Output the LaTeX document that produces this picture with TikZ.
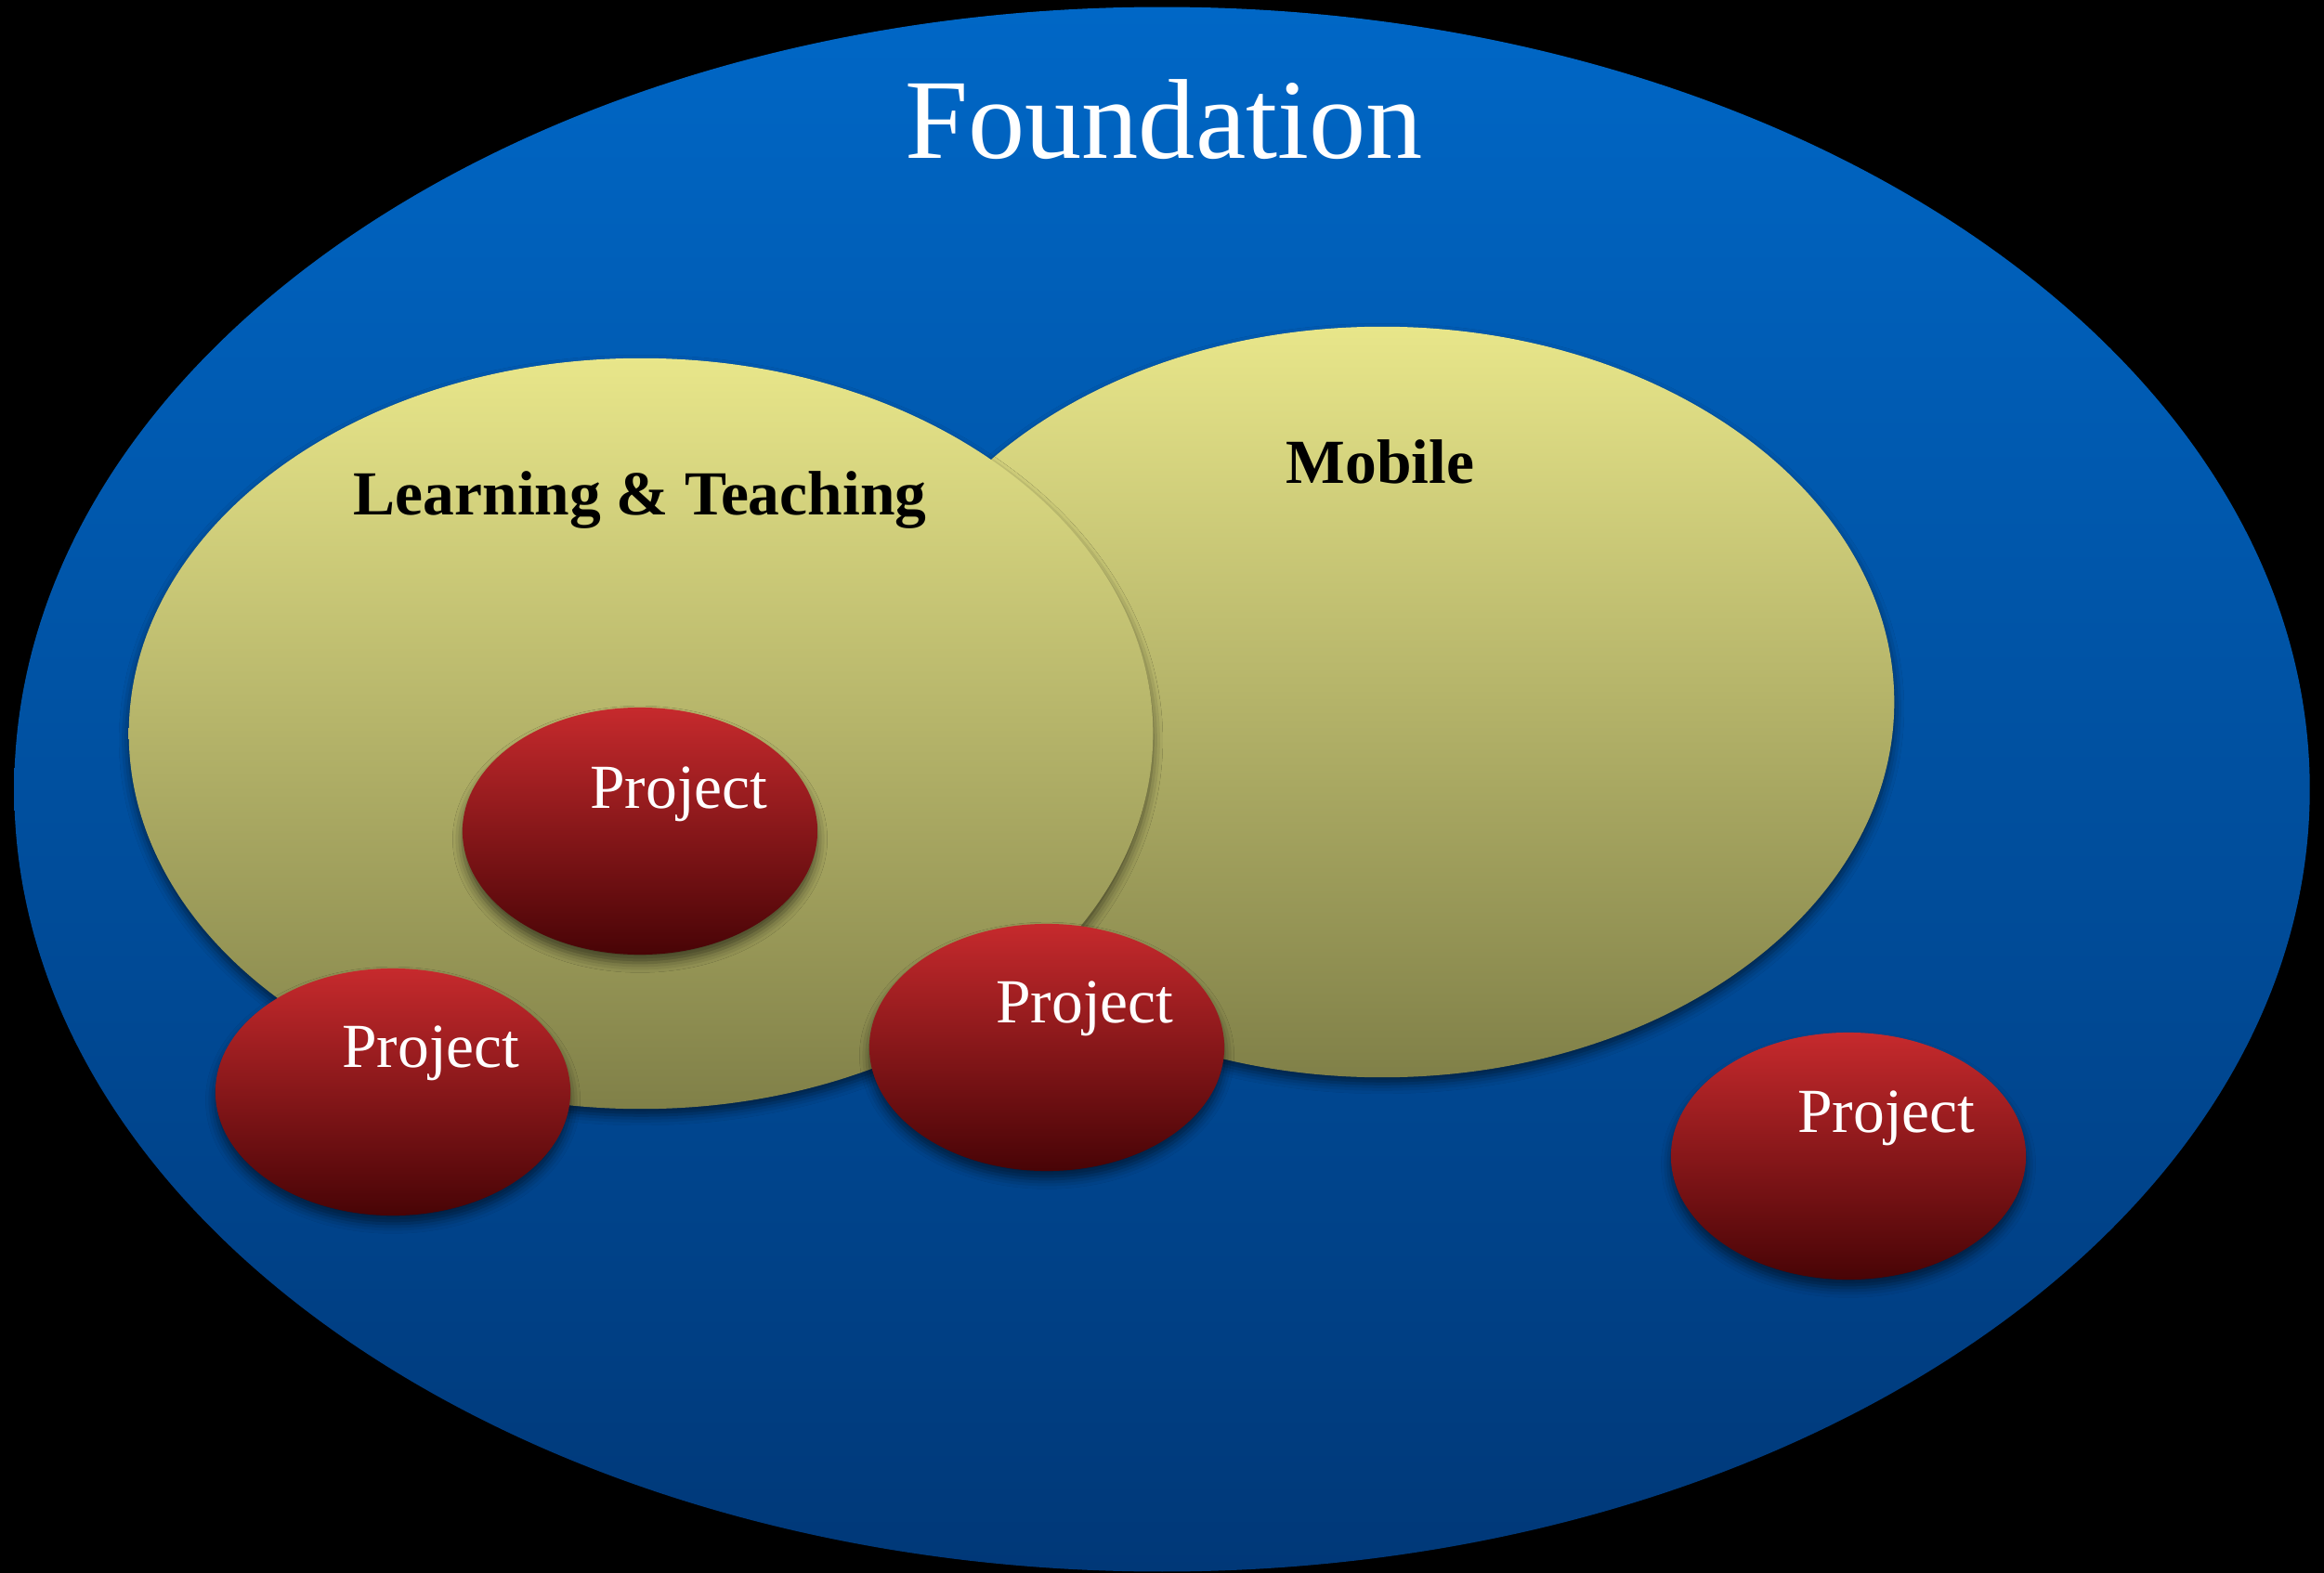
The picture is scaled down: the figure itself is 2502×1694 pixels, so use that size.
\documentclass[tikz,border=0pt]{standalone}
\usepackage{fontspec}
\setmainfont{Liberation Serif}
\usetikzlibrary{shapes.geometric,shadows.blur}
\definecolor{blueTop}{RGB}{0,103,198}
\definecolor{blueBot}{RGB}{0,56,120}
\definecolor{yelTop}{RGB}{232,230,138}
\definecolor{yelBot}{RGB}{128,128,72}
\definecolor{redTop}{RGB}{198,42,45}
\definecolor{redBot}{RGB}{72,4,6}
\tikzset{
  oval/.style={ellipse, inner sep=0pt, draw=none},
  foundationoval/.style={oval, top color=blueTop, bottom color=blueBot,
    minimum width=24.70cm, minimum height=16.84cm},
  areaoval/.style={oval, top color=yelTop, bottom color=yelBot,
    minimum width=11.02cm, minimum height=8.08cm,
    blur shadow={shadow xshift=0pt, shadow yshift=-2pt, shadow blur radius=3pt, shadow opacity=55}},
  projectoval/.style={oval, top color=redTop, bottom color=redBot,
    minimum width=3.82cm, minimum height=2.66cm,
    blur shadow={shadow xshift=0pt, shadow yshift=-2.5pt, shadow blur radius=3pt, shadow opacity=55}},
  titletext/.style={anchor=base, inner sep=0pt, text=white, font=\fontsize{34.8}{40}\selectfont},
  areatext/.style={anchor=base, inner sep=0pt, text=black, font=\bfseries\fontsize{19.2}{23}\selectfont},
  projtext/.style={anchor=base, inner sep=0pt, text=white, font=\fontsize{19.2}{23}\selectfont}
}
\begin{document}
\begin{tikzpicture}[x=0.01cm, y=-0.01cm]
\fill[black] (0,0) rectangle (2502,1694);
\useasboundingbox (0,0) rectangle (2502,1694);
\node[foundationoval] (found) at (1251,850) {};
\node[areaoval] (mobile) at (1488,756) {};
\node[areaoval] (lt) at (690,790) {};
\node[projectoval] (p1) at (689,895) {};
\node[projectoval] (p2) at (423,1176) {};
\node[projectoval] (p3) at (1127,1128) {};
\node[projectoval] (p4) at (1990,1245) {};
\node[titletext] (tfound) at (1253,171) {Foundation};
\node[areatext] (tlt) at (689,554) {Learning \& Teaching};
\node[areatext] (tmob) at (1486,520) {Mobile};
\node[projtext] (tp1) at (731,870) {Project};
\node[projtext] (tp2) at (464,1149) {Project};
\node[projtext] (tp3) at (1168,1101) {Project};
\node[projtext] (tp4) at (2031,1219) {Project};
\end{tikzpicture}
\end{document}
